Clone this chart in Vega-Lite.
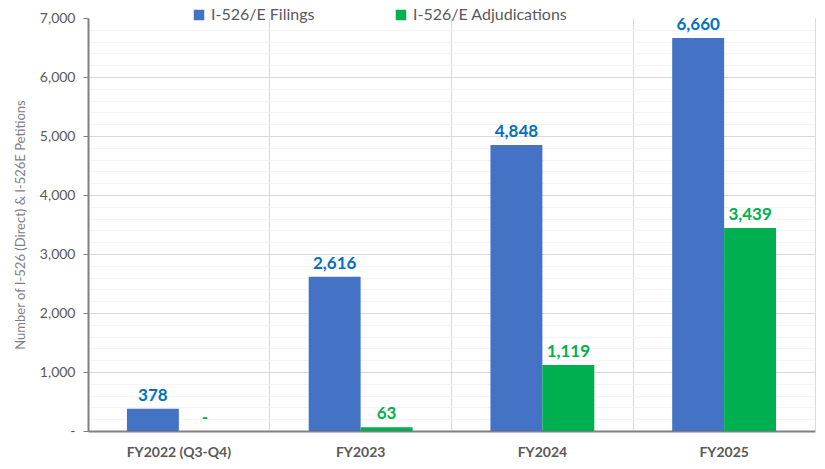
{
  "$schema": "https://vega.github.io/schema/vega-lite/v6.json",
  "width": 727,
  "height": 413,
  "autosize": "none",
  "padding": {"left": 88, "top": 18, "right": 10, "bottom": 38},
  "background": "white",
  "config": {"view": {"stroke": null}, "font": "Lato"},
  "data": {
    "values": [
      {"year": "FY2022 (Q3-Q4)", "series": "I-526/E Filings", "value": 378},
      {"year": "FY2022 (Q3-Q4)", "series": "I-526/E Adjudications", "value": 0},
      {"year": "FY2023", "series": "I-526/E Filings", "value": 2616},
      {"year": "FY2023", "series": "I-526/E Adjudications", "value": 63},
      {"year": "FY2024", "series": "I-526/E Filings", "value": 4848},
      {"year": "FY2024", "series": "I-526/E Adjudications", "value": 1119},
      {"year": "FY2025", "series": "I-526/E Filings", "value": 6660},
      {"year": "FY2025", "series": "I-526/E Adjudications", "value": 3439}
    ]
  },
  "transform": [
    {"calculate": "datum.value == 0 ? '-' : format(datum.value, ',')", "as": "label"}
  ],
  "encoding": {
    "x": {
      "field": "year",
      "type": "nominal",
      "sort": null,
      "scale": {"paddingInner": 0, "paddingOuter": 0},
      "axis": {
        "title": null,
        "labelAngle": 0,
        "labelFontWeight": "bold",
        "labelFontSize": 14,
        "labelColor": "#595959",
        "labelPadding": 14,
        "ticks": false,
        "domainColor": "#808080",
        "domainWidth": 2,
        "grid": true,
        "gridColor": "#d9d9d9",
        "bandPosition": 0
      }
    },
    "xOffset": {
      "field": "series",
      "type": "nominal",
      "sort": ["I-526/E Filings", "I-526/E Adjudications"],
      "scale": {"paddingInner": 0, "paddingOuter": 0.75}
    },
    "y": {
      "field": "value",
      "type": "quantitative",
      "scale": {"domain": [0, 7000], "nice": false}
    }
  },
  "layer": [
    {
      "mark": {"type": "bar"},
      "encoding": {
        "y": {
          "field": "value",
          "type": "quantitative",
          "axis": {
            "title": "Number of I-526 (Direct) & I-526E Petitions",
            "titleFontWeight": "normal",
            "titleFontSize": 13,
            "titleColor": "#7f7f7f",
            "titlePadding": 12,
            "values": [0, 200, 400, 600, 800, 1000, 1200, 1400, 1600, 1800, 2000, 2200, 2400, 2600, 2800, 3000, 3200, 3400, 3600, 3800, 4000, 4200, 4400, 4600, 4800, 5000, 5200, 5400, 5600, 5800, 6000, 6200, 6400, 6600, 6800, 7000],
            "labelExpr": "datum.value % 1000 == 0 ? (datum.value == 0 ? '-' : format(datum.value, ',')) : ''",
            "labelFontSize": 14,
            "labelColor": "#595959",
            "labelPadding": 8,
            "tickSize": 5,
            "tickColor": "#808080",
            "tickOpacity": {"condition": {"test": "datum.value % 1000 == 0", "value": 1}, "value": 0},
            "domainColor": "#808080",
            "domainWidth": 2,
            "grid": true,
            "gridColor": {"condition": {"test": "datum.value % 1000 == 0", "value": "#d9d9d9"}, "value": "#f4f4f4"},
            "gridOpacity": {"condition": {"test": "datum.value == 7000", "value": 0}, "value": 1}
          }
        },
        "color": {
          "field": "series",
          "type": "nominal",
          "scale": {"domain": ["I-526/E Filings", "I-526/E Adjudications"], "range": ["#4472C4", "#00B050"]},
          "legend": {
            "title": null,
            "orient": "none",
            "direction": "horizontal",
            "legendX": 103,
            "legendY": -11,
            "symbolType": "square",
            "symbolSize": 110,
            "symbolStrokeWidth": 0,
            "labelFontSize": 16,
            "labelColor": "#595959",
            "labelOffset": 4,
            "columnPadding": 78
          }
        }
      }
    },
    {
      "mark": {"type": "text", "fontWeight": "bold", "fontSize": 17, "baseline": "middle", "dy": -13},
      "encoding": {
        "y": {
          "field": "value",
          "type": "quantitative",
          "axis": {"orient": "right", "labels": false, "ticks": false, "grid": false, "title": null, "domainColor": "#d9d9d9", "domainWidth": 1}
        },
        "text": {"field": "label"},
        "color": {"condition": {"test": "datum.series == 'I-526/E Filings'", "value": "#0070C0"}, "value": "#00B050"}
      }
    }
  ],
  "resolve": {"axis": {"y": "independent"}}
}
